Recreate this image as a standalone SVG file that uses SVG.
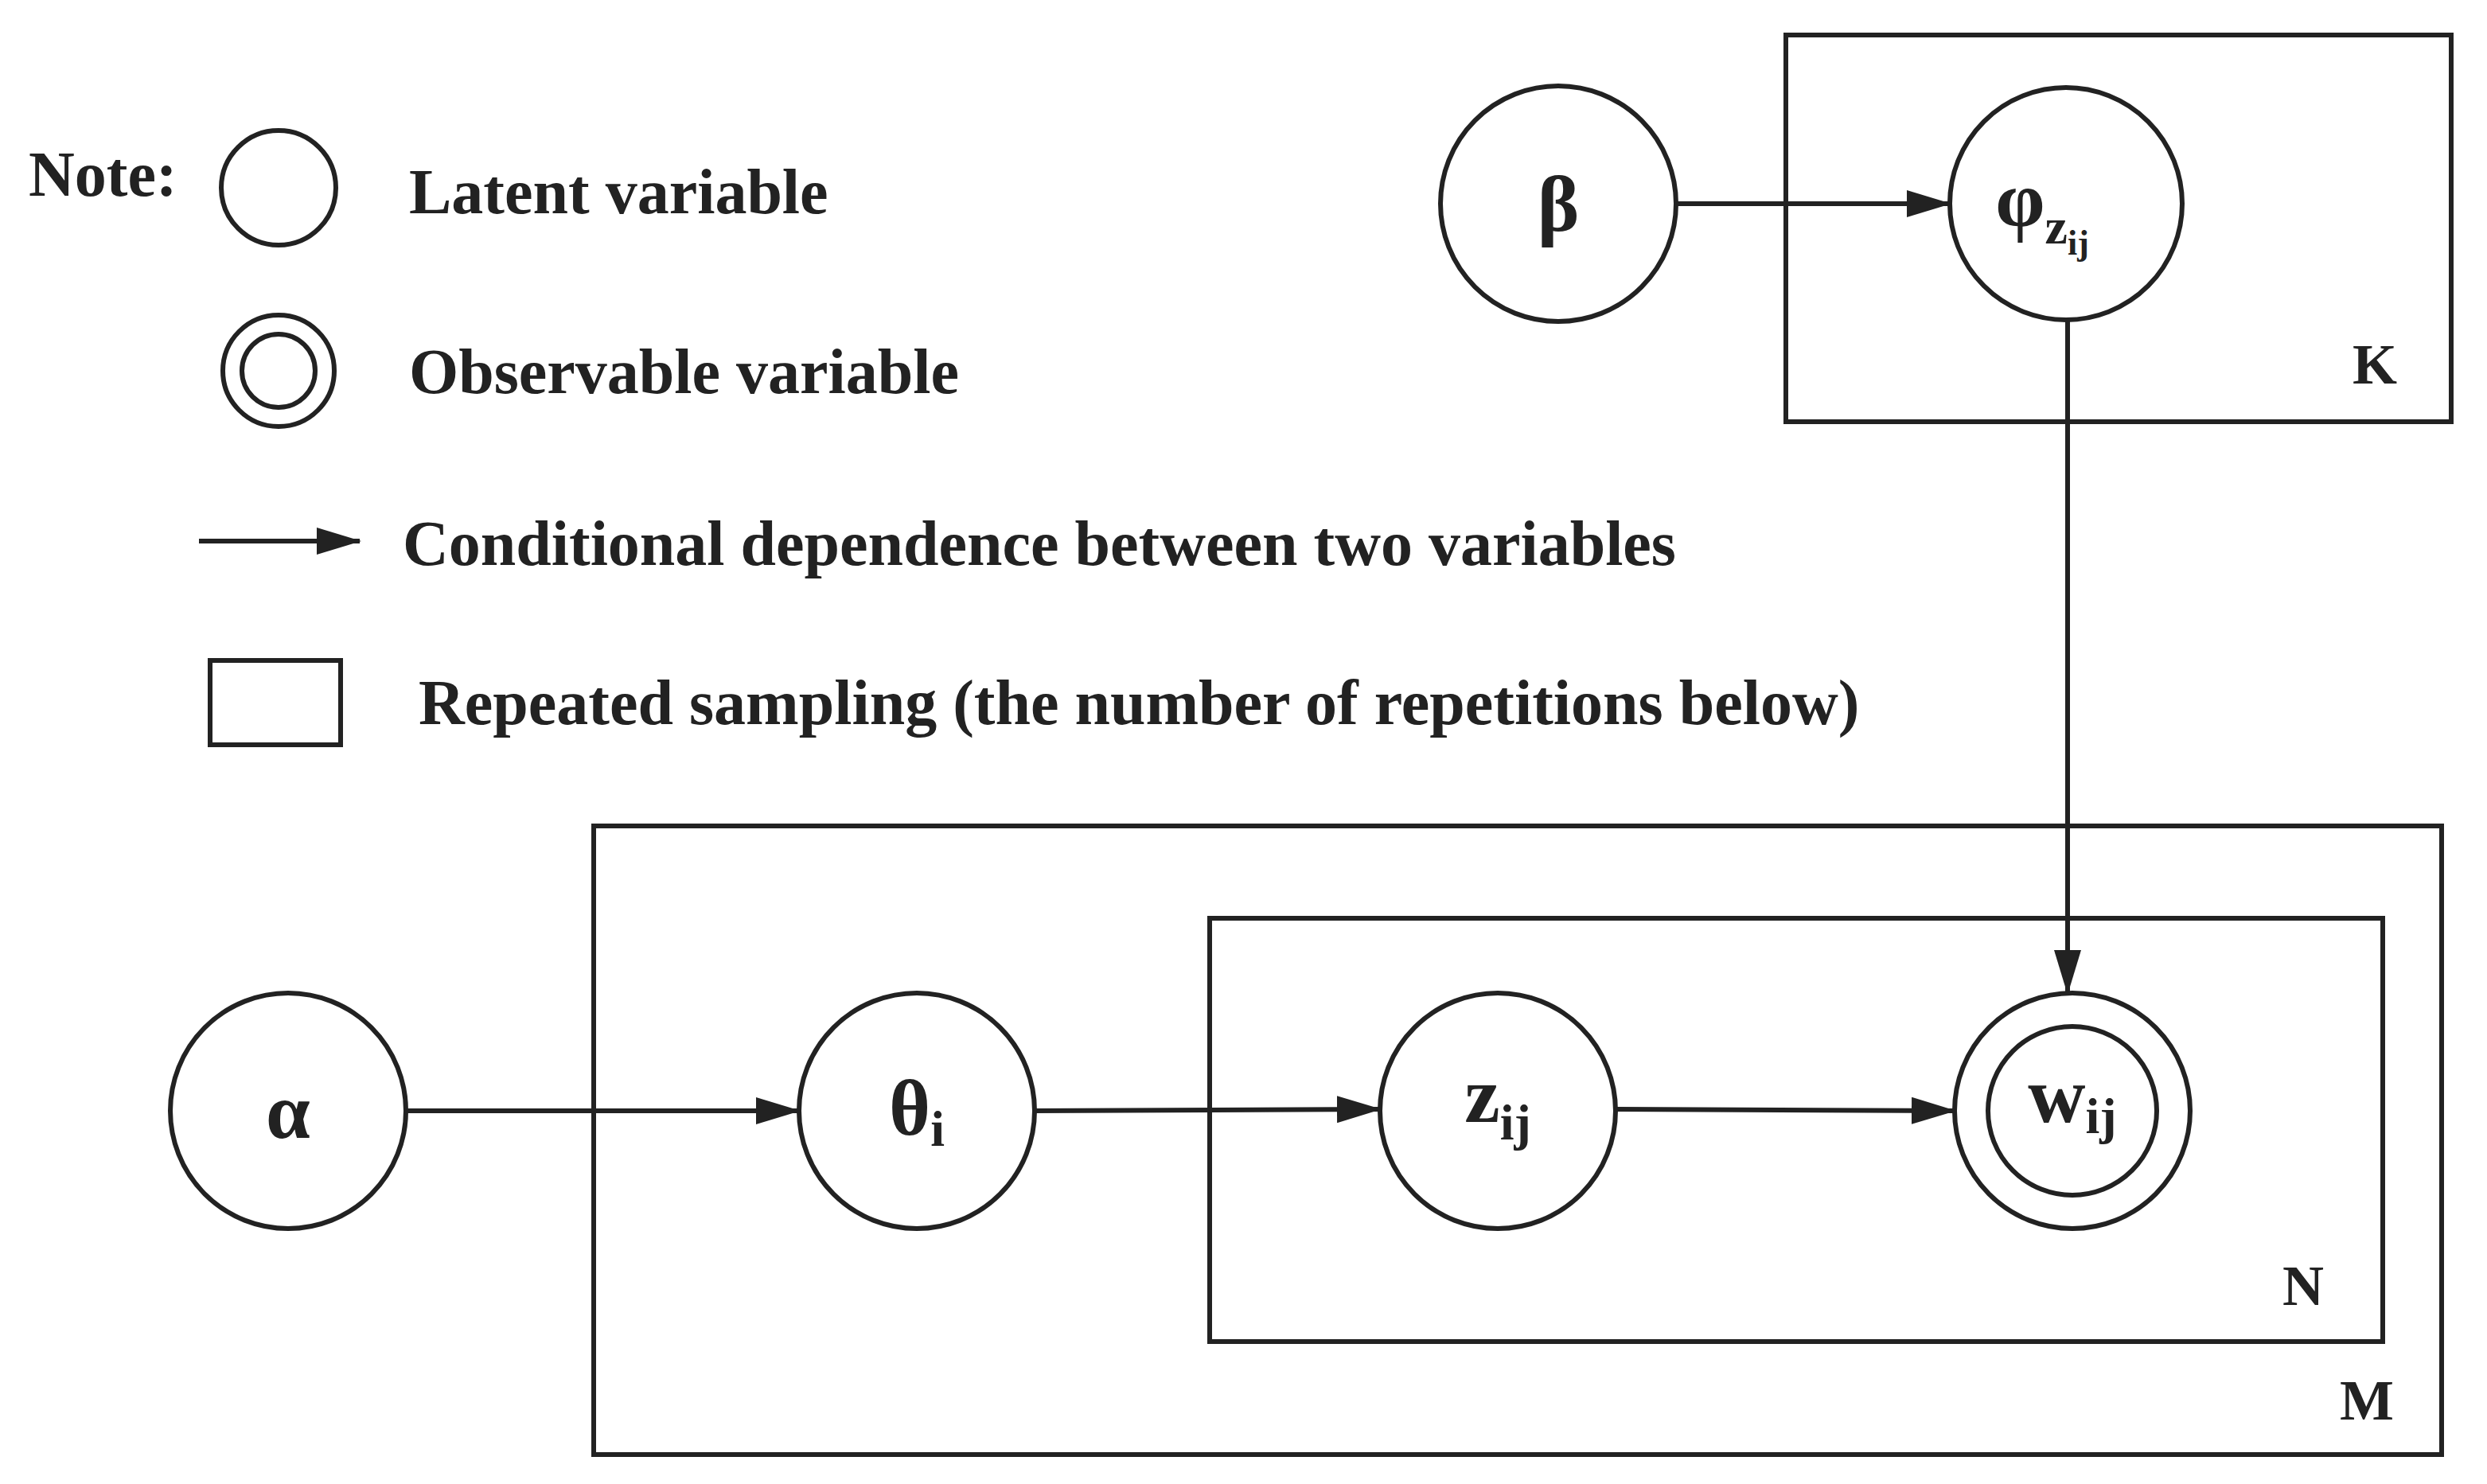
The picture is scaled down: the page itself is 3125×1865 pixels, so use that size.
<svg xmlns="http://www.w3.org/2000/svg" width="3125" height="1865" viewBox="0 0 3125 1865">
<style>
.s{fill:none;stroke:#222;stroke-width:6}
.c{fill:#fff;stroke:#222;stroke-width:6}
text{font-family:"Liberation Serif",serif;font-weight:bold;fill:#222}
.l{font-size:80px}
.n{font-size:100px;text-anchor:middle}
.sub{font-size:64px}
.p{font-size:72px}
.e{fill:none;stroke:#222;stroke-width:6;marker-end:url(#a)}
</style>
<defs><marker id="a" markerUnits="userSpaceOnUse" markerWidth="56" markerHeight="34" refX="54" refY="17" orient="auto"><path d="M0,0 L56,17 L0,34 Z" fill="#222"/></marker></defs>
<rect width="3125" height="1865" fill="#fff"/>
<g id="legend">
<text class="l" x="36" y="246">Note:</text>
<circle class="c" cx="350" cy="236" r="72"/>
<text class="l" x="514" y="268">Latent variable</text>
<circle class="c" cx="350" cy="466" r="70"/><circle class="c" cx="350" cy="466" r="46"/>
<text class="l" x="514" y="494">Observable variable</text>
<line class="e" x1="250" y1="680" x2="452" y2="680"/>
<text class="l" x="506" y="710">Conditional dependence between two variables</text>
<rect class="s" x="264" y="830" width="164" height="106"/>
<text class="l" x="526" y="910">Repeated sampling (the number of repetitions below)</text>
</g>
<g id="plateK"><rect class="s" x="2244" y="44" width="836" height="486"/><text class="p" x="2984" y="482" text-anchor="middle">K</text></g>
<g id="plateM"><rect class="s" x="746" y="1038" width="2322" height="790"/><text class="p" x="2974" y="1784" text-anchor="middle">M</text></g>
<g id="plateN"><rect class="s" x="1520" y="1154" width="1474" height="532"/><text class="p" x="2894" y="1640" text-anchor="middle">N</text></g>
<g id="connectors">
<line class="e" x1="2106" y1="256" x2="2450" y2="256"/>
<line class="e" x1="2598" y1="404" x2="2598" y2="1248"/>
<line class="e" x1="512" y1="1396" x2="1004" y2="1396"/>
<line class="e" x1="1300" y1="1396" x2="1734" y2="1394"/>
<line class="e" x1="2030" y1="1394" x2="2456" y2="1396"/>
</g>
<g id="beta"><circle class="c" cx="1958" cy="256" r="148"/><text class="n" x="1958" y="290">β</text></g>
<g id="phi"><circle class="c" cx="2596" cy="256" r="146"/><text class="n" x="2566" y="284">φ<tspan class="sub" dy="22">z</tspan><tspan style="font-size:44px" dy="14">ij</tspan></text></g>
<g id="alpha"><circle class="c" cx="362" cy="1396" r="148"/><text class="n" x="362" y="1430">α</text></g>
<g id="theta"><circle class="c" cx="1152" cy="1396" r="148"/><text class="n" x="1152" y="1426">θ<tspan class="sub" dy="14">i</tspan></text></g>
<g id="z"><circle class="c" cx="1882" cy="1396" r="148"/><text class="n" x="1882" y="1410">z<tspan class="sub" dy="22">ij</tspan></text></g>
<g id="w"><circle class="c" cx="2604" cy="1396" r="148"/><circle class="c" cx="2604" cy="1396" r="106"/><text class="n" x="2604" y="1410">w<tspan class="sub" dy="14">ij</tspan></text></g>
</svg>
